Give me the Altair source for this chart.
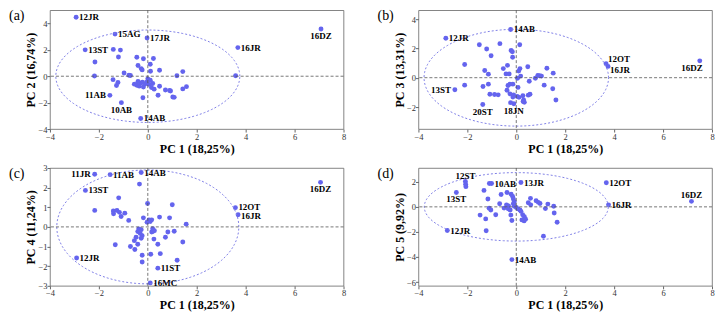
import altair as alt
import pandas as pd

FONT = "Liberation Serif"
PT_COLOR = "#6464ee"
ELL_COLOR = "#7f7fe6"

# ---------------- Panel (a): PC1 vs PC2 (labelled points first)
a_names = ["12JR", "15AG", "17JR", "16JR", "13ST", "11AB", "10AB", "14AB", "16DZ"]
a_x = [-2.93, -1.34, -0.03, 3.68, -2.56, -1.55, -1.08, -0.29, 7.08,
       -1.41, -1.12, -1.20, -2.16, -0.45, -0.18, 0.23, 0.10, -0.40, -0.27,
       -0.23, 0.48, 0.11, 1.43, 1.19, 3.59, -2.18, -0.97, -0.77, -0.71,
       -1.42, -1.22, -1.28, 0.00, -0.55, -0.45, -0.35, -0.30, -0.22, -0.18,
       -0.12, -0.05, 0.05, 0.15, 0.20, 0.26, 0.48, 0.72, 0.89, 0.93, 0.42,
       -0.20, 1.02, 1.08, 1.43, 1.58, -0.40, 0.10]
a_y = [4.47, 3.19, 2.90, 2.17, 2.00, -1.45, -2.00, -3.20, 3.58,
       2.03, 1.98, 1.46, 1.08, 1.44, 1.32, 1.34, 0.91, 0.81, 0.58,
       0.48, 0.45, 0.38, 0.35, 0.04, 0.04, 0.02, 0.24, 0.07, 0.05,
       -0.26, -0.48, -0.70, -0.20, -0.60, -0.68, -0.75, -0.52, -0.45, -0.82,
       -0.60, -0.45, -0.62, -0.85, -0.55, -0.98, -0.76, -1.04, -1.08, -1.12, -1.44,
       -1.63, -1.57, -1.60, -0.96, -0.79, -0.40, -0.30]
a_place = {"11AB": "l", "10AB": "b", "16DZ": "b"}

# ---------------- Panel (b): PC1 vs PC3
b_names = ["14AB", "12JR", "13ST", "18JN", "20ST", "12OT", "16JR", "16DZ"]
b_x = [-0.23, -2.88, -2.51, -0.10, -1.37, 3.67, 3.75, 7.50,
       -1.51, -0.67, -1.21, 0.14, -0.21, -0.16, -0.15, -1.03, -2.11, -0.36,
       -0.53, 0.15, 0.10, 0.47, 1.25, -1.29, -1.14, -0.42, -0.29, 0.18,
       0.05, 0.88, 0.96, 1.03, 0.78, 1.51, 0.53, -2.11, -1.36, -1.14,
       -0.34, -0.26, -0.14, 0.07, 1.14, 1.49, -0.38, -1.08, -0.89, -0.74,
       -0.26, -0.11, 0.04, 0.11, 0.27, 0.49, 0.56, -0.14, 1.62, -0.23,
       0.30, 0.33, 0.28]
b_y = [3.29, 2.69, -0.82, -1.78, -1.83, 0.95, 0.77, 1.15,
       2.25, 2.32, 1.96, 2.25, 1.85, 1.77, 1.39, 1.50, 0.90, 0.84,
       0.62, 0.62, 0.45, 0.75, 0.64, 0.49, 0.24, 0.26, 0.26, 0.11,
       -0.04, 0.15, 0.13, 0.11, -0.04, 0.31, -0.24, -0.51, -0.60, -0.44,
       -0.53, -0.44, -0.44, -0.66, -0.51, -0.75, -0.86, -1.13, -1.15, -1.17,
       -1.10, -1.17, -1.28, -1.34, -1.23, -1.19, -1.13, -1.32, -1.52, -1.70,
       -1.52, -1.68, -1.62]
b_place = {"13ST": "l", "18JN": "b", "20ST": "b", "12OT": "ra", "16JR": "rb", "16DZ": "bl"}

# ---------------- Panel (c): PC1 vs PC4
c_names = ["11JR", "11AB", "14AB", "13ST", "12OT", "16JR", "11ST", "12JR", "16MC", "16DZ"]
c_x = [-2.17, -1.54, -0.27, -2.55, 3.58, 3.69, 0.41, -2.91, 0.10, 7.06,
       -0.34, -1.19, -0.01, 1.00, -2.17, -1.41, -1.26, -1.40, -1.16, -1.09,
       -0.94, -0.78, -0.18, 0.05, 0.10, -0.03, 0.16, 0.48, 0.89, 1.57,
       -1.33, -0.37, -0.27, -0.41, -0.31, -0.23, -0.27, -0.48, -0.55, -0.41,
       0.20, 0.27, 0.16, 0.82, 1.08, 0.25, 0.72, 0.41, 1.43, -0.71,
       -0.53, -0.23, 0.12, 0.51, -0.23, 1.20, 0.22]
c_y = [2.68, 2.66, 2.77, 1.86, 0.98, 0.62, -2.10, -1.58, -2.85, 2.27,
       2.18, 1.48, 1.19, 1.13, 0.84, 0.81, 0.84, 0.67, 0.74, 0.53,
       0.70, 0.33, 0.46, 0.36, 0.27, 0.24, 0.36, 0.50, 0.46, 0.14,
       -0.91, -0.10, -0.14, -0.24, -0.33, -0.45, -0.58, -0.53, -0.70, -0.88,
       -0.09, -0.19, -0.26, -0.26, -0.22, -0.62, -0.53, -0.88, -0.77, -1.00,
       -1.15, -1.44, -1.39, -1.36, -1.79, -1.70, -0.22]
c_place = {"11JR": "l", "16DZ": "b", "12OT": "ra1", "16JR": "rb1"}

# ---------------- Panel (d): PC1 vs PC5
d_names = ["12ST", "13ST", "10AB", "13JR", "12OT", "16JR", "16DZ", "12JR", "14AB"]
d_x = [-2.08, -2.45, -1.01, 0.19, 3.68, 3.77, 7.16, -2.82, -0.18,
       -2.07, -2.06, -1.10, -1.32, -1.16, -0.62, -0.38, -0.21, -0.15, -0.12,
       -0.08, -0.12, -0.08, -0.68, -0.40, -0.32, -0.33, -0.25, -1.11, -1.04,
       -1.48, -0.84, -1.25, -1.23, -0.22, -0.18, 0.15, 0.19, 0.26, 0.33,
       0.23, 0.32, 0.38, 0.07, 0.49, 0.59, 0.58, 0.81, 0.90, 0.97,
       1.29, 1.53, 1.19, 1.55, 1.67, 1.11, -0.50, 0.00]
d_y = [2.02, 1.15, 1.86, 1.94, 1.92, 0.16, 0.44, -1.89, -4.21,
       1.80, 1.61, 1.86, 1.31, 0.63, 0.98, 1.15, 1.01, 0.82, 0.63,
       0.41, 0.25, 0.05, 0.25, 0.16, 0.08, -0.16, -0.25, -0.11, -0.25,
       -0.66, -0.63, -0.96, -1.91, -0.66, -1.09, -0.25, -0.36, -0.63, -0.79,
       -1.04, -1.12, -0.98, -0.16, 0.33, 0.16, 0.68, 0.49, 0.36, 0.27,
       0.22, 0.05, -0.14, -0.49, -1.23, -2.35, -0.10, -0.05]
d_place = {"12ST": "t", "13ST": "b", "16DZ": "t"}

X_TICKS = [-4, -2, 0, 2, 4, 6, 8]
X_TITLE = "PC 1 (18,25%)"

LABEL_STYLE = {
    "r": dict(align="left", baseline="middle", dx=3, dy=0),
    "l": dict(align="right", baseline="middle", dx=-4, dy=0),
    "b": dict(align="center", baseline="middle", dx=0, dy=7),
    "t": dict(align="center", baseline="middle", dx=0, dy=-6),
    "bl": dict(align="right", baseline="middle", dx=3, dy=7),
    "ra": dict(align="left", baseline="middle", dx=2, dy=-5),
    "rb": dict(align="left", baseline="middle", dx=2, dy=4),
    "ra1": dict(align="left", baseline="middle", dx=3, dy=-1),
    "rb1": dict(align="left", baseline="middle", dx=3, dy=1),
}

W = 294


def panel(xs, ys, names, places, ydom, yticks, ytitle, tag, ell, h):
    df = pd.DataFrame({"x": xs, "y": ys})
    df["name"] = names + [""] * (len(xs) - len(names))
    df["pos"] = [places.get(n, "r") if n else "" for n in df["name"]]

    xsc = alt.Scale(domain=[-4, 8], nice=False, zero=False)
    ysc = alt.Scale(domain=ydom, nice=False, zero=False)
    xax = alt.Axis(values=X_TICKS, labelOverlap=False, labelFlush=False, titleY=14)
    yax = alt.Axis(values=yticks, labelOverlap=False, labelFlush=False, titleX=-12)
    X = alt.X("x:Q", scale=xsc, title=X_TITLE, axis=xax)
    Y = alt.Y("y:Q", scale=ysc, title=ytitle, axis=yax)

    ellipse = alt.Chart(alt.sequence(0, 362, 2, as_="t")).transform_calculate(
        x=f"{ell[0]}*cos(datum.t*PI/180)",
        y=f"{ell[1]}*sin(datum.t*PI/180)",
    ).mark_line(color=ELL_COLOR, strokeDash=[2, 2], strokeWidth=1).encode(
        x=X, y=Y, order="t:Q")

    zero = pd.DataFrame({"x": [0], "y": [0]})
    vrule = alt.Chart(zero).mark_rule(color="#555", strokeDash=[3, 2], strokeWidth=0.8).encode(x=X)
    hrule = alt.Chart(zero).mark_rule(color="#555", strokeDash=[3, 2], strokeWidth=0.8).encode(y=Y)

    pts = alt.Chart(df).mark_circle(color=PT_COLOR, opacity=1, size=24).encode(x=X, y=Y)

    layers = [pts, ellipse, vrule, hrule]
    for key, st in LABEL_STYLE.items():
        layers.append(
            alt.Chart(df).transform_filter(alt.datum.pos == key).mark_text(
                font=FONT, fontSize=9, fontWeight="bold", color="black", **st
            ).encode(x=X, y=Y, text="name:N")
        )
    tagc = alt.Chart(pd.DataFrame({"t": [tag]})).mark_text(
        font=FONT, fontSize=14, align="left", baseline="middle", color="black"
    ).encode(x=alt.value(-41), y=alt.value(6), text="t:N")
    layers.append(tagc)
    return alt.layer(*layers).properties(width=W, height=h)


pa = panel(a_x, a_y, a_names, a_place, [-4, 5], [-4, -2, 0, 2, 4], "PC 2 (16,74%)", "(a)", (3.76, 3.5), 119)
pb = panel(b_x, b_y, b_names, b_place, [-3.5, 4.6], [-2, 0, 2, 4], "PC 3 (13,31%)", "(b)", (3.77, 3.3), 119)
pc = panel(c_x, c_y, c_names, c_place, [-3, 3], [-3, -2, -1, 0, 1, 2, 3], "PC 4 (11,24%)", "(c)", (3.72, 2.9), 118)
pd_ = panel(d_x, d_y, d_names, d_place, [-6.3, 3.1], [-6, -4, -2, 0, 2], "PC 5 (9,92%)", "(d)", (3.76, 2.73), 118)

chart = alt.vconcat(
    alt.hconcat(pa, pb, spacing=30),
    alt.hconcat(pc, pd_, spacing=30),
    spacing=8,
).properties(
    padding={"left": 0, "top": 0, "right": 0, "bottom": 0}
).configure_axis(
    labelFont=FONT, labelFontSize=8.5, labelColor="#333",
    titleFont=FONT, titleFontSize=12, titleFontWeight="bold", titleColor="black",
    grid=False, domain=False, tickSize=3, tickColor="#666", labelPadding=0,
).configure_view(
    stroke="#666", strokeWidth=0.8
)

chart.save("out.html", embed_options={"renderer": "svg", "actions": False})
